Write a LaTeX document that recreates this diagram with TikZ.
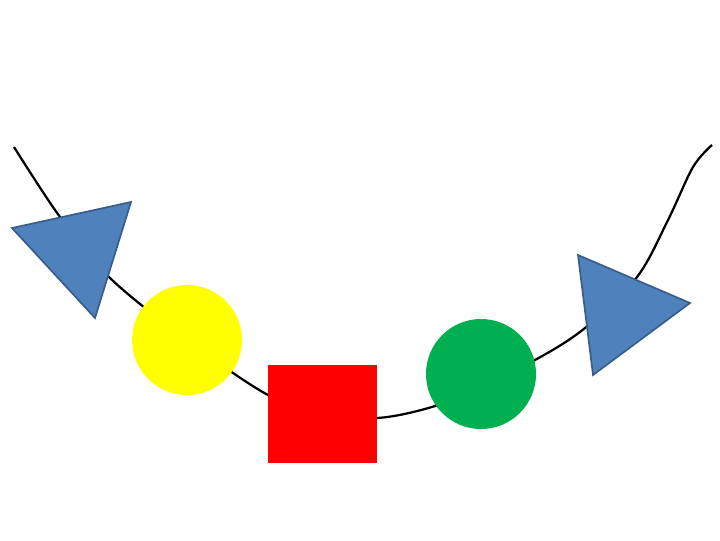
\documentclass[tikz,border=0pt]{standalone}
\usepackage{tikz}
\usetikzlibrary{positioning}
\definecolor{triblue}{RGB}{79,129,189}
\definecolor{triedge}{RGB}{56,93,138}
\definecolor{ballgreen}{RGB}{0,176,80}
\definecolor{ballyellow}{RGB}{255,255,0}
\tikzset{
    ball/.style={circle,inner sep=0pt,minimum size=2.75cm},
    tri/.style={fill=triblue,draw=triedge,line width=1.2pt,line join=miter}
}
\begin{document}
\begin{tikzpicture}[x=0.025cm,y=-0.025cm]
            \useasboundingbox (0,0) rectangle (720,540);
            \draw[line width=1.6pt] plot[smooth,tension=.55] coordinates {(14,147) (60,217) (110,278) (187,340) (268,395) (322,412) (377,418) (435,406) (481,385) (535,360) (585,328) (637,277) (668,220) (693,167) (712,145)};

            \node[ball,fill=ballyellow] (yel) at (187,340) {};
            \node[ball,fill=ballgreen] (grn) at (481,374) {};
            \node[fill=red,inner sep=0pt,minimum width=2.725cm,minimum height=2.45cm] (sq) at (322.5,414) {};

            \filldraw[tri] (12,228)--(131,202)--(95,318)--cycle;
            \filldraw[tri] (578,255)--(690,303)--(593,375)--cycle;
        \end{tikzpicture}
\end{document}
